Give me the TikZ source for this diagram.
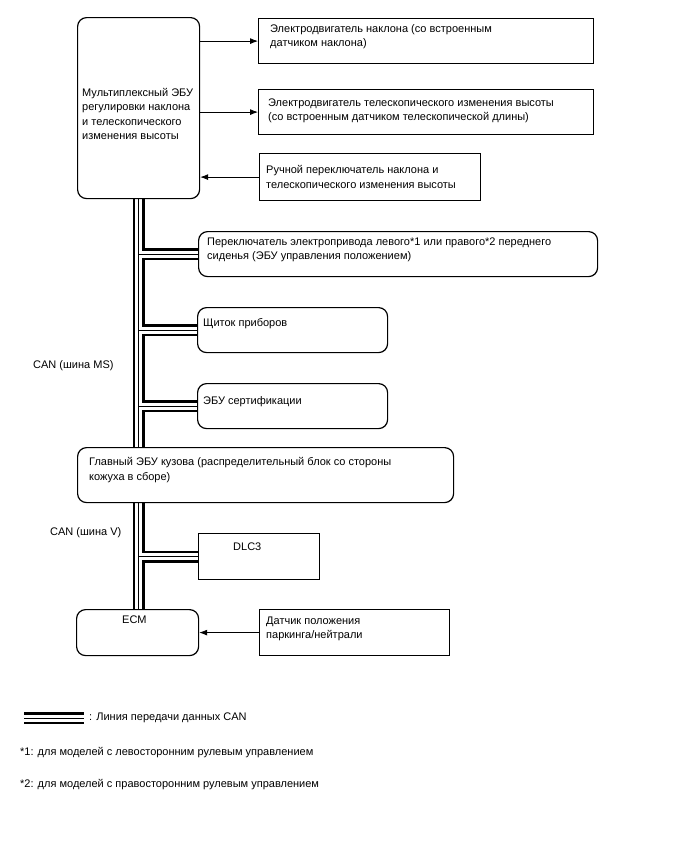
\documentclass[tikz,border=0pt]{standalone}
\usepackage{fontspec}
\setmainfont{Liberation Sans}
\usetikzlibrary{arrows.meta,backgrounds}

\tikzset{
  unit/.style={draw, line width=1.2pt, rounded corners=9pt, anchor=north west, inner sep=0pt},
  part/.style={draw, line width=1.2pt, anchor=north west, inner sep=0pt},
  txt/.style={anchor=west, align=left, inner sep=0pt, font=\fontsize{11}{14.5}\selectfont},
  sig/.style={line width=0.8pt, -{Latex[length=8pt,width=6pt]}}
}

\begin{document}
\begin{tikzpicture}[x=1pt,y=-1pt]
\useasboundingbox (0,0) rectangle (688,852);
% boxes
\node[unit, minimum width=122, minimum height=181] (tilt) at (77,17) {};
\node[part, minimum width=335, minimum height=45] (motA) at (258,18) {};
\node[part, minimum width=335, minimum height=45] (motB) at (258,89) {};
\node[part, minimum width=221, minimum height=47] (swC) at (259,153) {};
\node[unit, minimum width=399, minimum height=45] (seat) at (198,231) {};
\node[unit, minimum width=190, minimum height=45] (meter) at (197,307) {};
\node[unit, minimum width=190, minimum height=45] (cert) at (197,383) {};
\node[unit, minimum width=376, minimum height=55] (body) at (77,447) {};
\node[part, minimum width=121, minimum height=46] (dlc) at (198,533) {};
\node[unit, minimum width=122, minimum height=46] (ecm) at (76,609) {};
\node[part, minimum width=190, minimum height=46] (pnp) at (259,609) {};
% texts
\node[txt] (tTilt) at (82,114) {Мультиплексный ЭБУ\\регулировки наклона\\и телескопического\\изменения высоты};
\node[txt] (tMotA) at (270,36.5) {Электродвигатель наклона (со встроенным\\датчиком наклона)};
\node[txt] (tMotB) at (268,111) {Электродвигатель телескопического изменения высоты\\(со встроенным датчиком телескопической длины)};
\node[txt] (tSwC) at (266,177) {Ручной переключатель наклона и\\телескопического изменения высоты};
\node[txt] (tSeat) at (207,250) {Переключатель электропривода левого*1 или правого*2 переднего\\сиденья (ЭБУ управления положением)};
\node[txt] (tMeter) at (203,324) {Щиток приборов};
\node[txt] (tCert) at (203,402) {ЭБУ сертификации};
\node[txt] (tBody) at (89,470) {Главный ЭБУ кузова (распределительный блок со стороны\\кожуха в сборе)};
\node[txt] (tDlc) at (233,547) {DLC3};
\node[txt] (tEcm) at (122,620) {ECM};
\node[txt] (tPnp) at (266,629) {Датчик положения\\паркинга/нейтрали};
\node[txt] (canMS) at (33,366) {CAN (шина MS)};
\node[txt] (canV) at (50,533) {CAN (шина V)};
% signal lines
\draw[sig] (motA.west -| tilt.east) -- (motA.west);
\draw[sig] (motB.west -| tilt.east) -- (motB.west);
\draw[sig] (swC.west) -- (swC.west -| tilt.east);
\draw[sig] (pnp.west) -- (pnp.west -| ecm.east);
% CAN bus
\begin{scope}[on background layer]
\foreach \w/\c in {12pt/black, 7pt/white, 0.9pt/black} {
  \draw[line width=\w, \c] (tilt.south) -- (tilt.south |- body.north)
    (tilt.south |- seat.west) -- (seat.west)
    (tilt.south |- meter.west) -- (meter.west)
    (tilt.south |- cert.west) -- (cert.west)
    (tilt.south |- body.south) -- (tilt.south |- ecm.north)
    (tilt.south |- dlc.west) -- (dlc.west);
}
\end{scope}
% legend
\coordinate (legA) at (24,718);
\coordinate (legB) at (84,718);
\foreach \w/\c in {12pt/black, 7pt/white, 0.9pt/black} {
  \draw[line width=\w, \c] (legA) -- (legB);
}
\node[txt] (tLeg) at (89,718) {: Линия передачи данных CAN};
\node[txt] (note1) at (20,753) {*1: для моделей с левосторонним рулевым управлением};
\node[txt] (note2) at (20,785) {*2: для моделей с правосторонним рулевым управлением};
\end{tikzpicture}
\end{document}
